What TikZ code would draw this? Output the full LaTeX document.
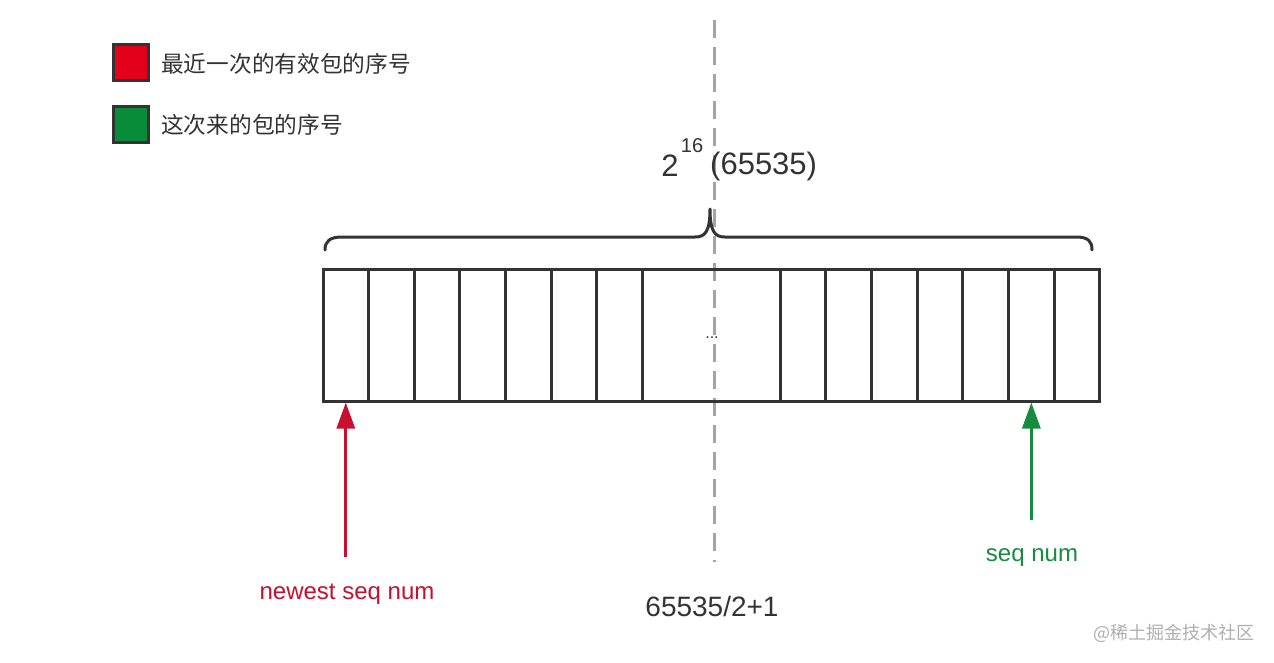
\documentclass[tikz,border=0pt]{standalone}
\usepackage{fontspec}
\setmainfont{Liberation Sans}
\newfontfamily\cjk{Noto Sans CJK SC}
\usetikzlibrary{arrows.meta}
\definecolor{ink}{RGB}{51,51,51}
\definecolor{legred}{RGB}{226,0,26}
\definecolor{leggreen}{RGB}{8,140,58}
\definecolor{arrred}{RGB}{200,16,46}
\definecolor{arrgreen}{RGB}{22,140,62}
\definecolor{dashgray}{RGB}{165,165,165}
\definecolor{wmgray}{RGB}{175,175,175}
\newcommand{\fsz}[1]{\fontsize{#1}{#1}\selectfont}
\tikzset{
  legbox/.style={draw=ink, line width=3pt, minimum width=35pt, minimum height=36pt, inner sep=0pt},
  legtext/.style={anchor=west, text=ink, font=\cjk\fsz{22.7}, inner sep=0pt},
  cell/.style={draw=ink, line width=3pt, minimum height=132pt, inner sep=0pt},
  ptr/.style={line width=3pt, -{Triangle[width=18pt,length=26pt]}},
  lbl/.style={font=\fsz{24}, inner sep=0pt},
  bracestyle/.style={draw=ink, line width=3pt, line cap=round, line join=round},
}
\begin{document}
\begin{tikzpicture}[x=1pt,y=-1pt]
\useasboundingbox[fill=white] (0,0) rectangle (1274,662);
% legend
\node[legbox, fill=legred] (lr) at (130.5,62) {};
\node[legtext] (lrt) at (161,64) {最近一次的有效包的序号};
\node[legbox, fill=leggreen] (lg) at (130.5,124) {};
\node[legtext] (lgt) at (161,125) {这次来的包的序号};
% dashed middle line
\coordinate (dtop) at (714,20);
\coordinate (dbot) at (714,562);
\draw[dashgray, line width=3pt, dash pattern=on 18pt off 9pt] (dtop) -- (dbot);
% title
\node[font=\fsz{31}, text=ink, inner sep=0pt] (two) at (670,166) {2};
\node[font=\fsz{20}, text=ink, inner sep=0pt] (sup) at (692,146) {16};
\node[font=\fsz{31}, text=ink, inner sep=0pt, anchor=west] (cnt) at (710,166) {(65535)};
% brace
\draw[bracestyle] (325,250) .. controls (325,241) and (330,237) .. (342,237)
  -- (695,237) .. controls (705,237) and (710,232) .. (710,209)
  .. controls (710,232) and (715,237) .. (725,237)
  -- (1076,237) .. controls (1088,237) and (1092,241) .. (1092,250);
% cells
\foreach \i in {1,...,7} {
  \node[cell, minimum width=45.6pt] (l\i) at ({323+45.6*(\i-0.5)},335) {};
}
\node[cell, minimum width=138pt] (mid) at (711,335) {};
\foreach \i in {1,...,7} {
  \node[cell, minimum width=45.7pt] (r\i) at ({780+45.7*(\i-0.5)},335) {};
}
\node[font=\fsz{16}, text=ink, inner sep=0pt] (dots) at (712,338) {...};
% arrows
\coordinate (ry) at (0,557);
\coordinate (rs) at (l1.south |- ry);
\draw[ptr, arrred] (rs) -- (l1.south);
\coordinate (gy) at (0,520);
\coordinate (gs) at (r6.south |- gy);
\draw[ptr, arrgreen] (gs) -- (r6.south);
% labels
\node[lbl, text=arrred] (nl) at (347,594) {newest seq num};
\node[lbl, text=arrgreen] (sl) at (1032,558) {seq num};
\node[font=\fsz{28}, text=ink, inner sep=0pt] (half) at (712,606) {65535/2+1};
\node[font=\cjk\fsz{18}, text=wmgray, inner sep=0pt] (wm) at (1174,633) {@稀土掘金技术社区};
\end{tikzpicture}
\end{document}
